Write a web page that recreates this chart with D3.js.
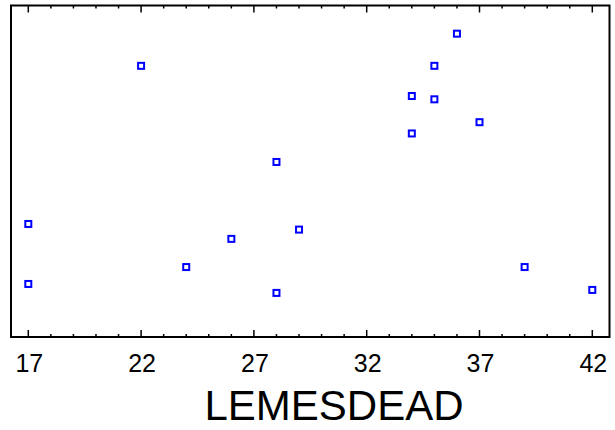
<!DOCTYPE html>
<html>
<head>
<meta charset="utf-8">
<script src="https://cdn.jsdelivr.net/npm/d3@7"></script>
<style>
  body { margin: 0; background: #fff; }
  svg { display: block; }
</style>
</head>
<body>
<div id="chart"></div>
<script>
const kWidth = 615;
const kHeight = 430;

// LEMESDEAD values and the unlabelled vertical variable
const lemesdead = [22, 36, 35, 34, 35, 37, 34, 28, 17, 29, 26, 24, 39, 17, 28, 42];
const yValues = [8.18, 9.15, 8.18, 7.27, 7.17, 6.48, 6.14, 5.28, 3.41, 3.24, 2.96, 2.11, 2.11, 1.60, 1.33, 1.42];
const xTicks = [17, 22, 27, 32, 37, 42];
const xLabel = "LEMESDEAD";

const kLeft = 11, kRight = 609.5, kTop = 5.5, kBottom = 337;

const svg = d3.select("#chart")
  .append("svg")
  .attr("width", kWidth)
  .attr("height", kHeight);

const xScale = d3.scaleLinear()
  .domain([17, 42])
  .range([28.3, 592.3]);

const yScale = d3.scaleLinear()
  .domain([0, 10])
  .range([kBottom, kTop]);

// frame
svg.append("rect")
  .attr("x", kLeft)
  .attr("y", kTop)
  .attr("width", kRight - kLeft)
  .attr("height", kBottom - kTop)
  .attr("fill", "none")
  .attr("stroke", "#000")
  .attr("stroke-width", 2);

const minorTicks = d3.range(17, 43);

function drawTicks(y, dir) {
  const g = svg.append("g");
  g.selectAll("line.minor")
    .data(minorTicks.filter(d => !xTicks.includes(d)))
    .enter()
    .append("line")
    .attr("class", "minor")
    .attr("x1", d => xScale(d))
    .attr("x2", d => xScale(d))
    .attr("y1", y)
    .attr("y2", y + dir * 3)
    .attr("stroke", "#000")
    .attr("stroke-width", 1.5);
  g.selectAll("line.major")
    .data(xTicks)
    .enter()
    .append("line")
    .attr("class", "major")
    .attr("x1", d => xScale(d))
    .attr("x2", d => xScale(d))
    .attr("y1", y)
    .attr("y2", y + dir * 7)
    .attr("stroke", "#000")
    .attr("stroke-width", 1.5);
}
drawTicks(kBottom, -1);
drawTicks(kTop, 1);

// tick labels
svg.append("g")
  .selectAll("text")
  .data(xTicks)
  .enter()
  .append("text")
  .attr("x", d => xScale(d) + 1)
  .attr("y", 372)
  .attr("text-anchor", "middle")
  .style("font-family", "'Liberation Sans', Arial, sans-serif")
  .style("font-size", "25px")
  .text(d => d);

svg.append("text")
  .attr("x", 334)
  .attr("y", 419.5)
  .attr("text-anchor", "middle")
  .style("font-family", "'Liberation Sans', Arial, sans-serif")
  .style("font-size", "42px")
  .text(xLabel);

// points
const s = 6;
svg.append("g")
  .selectAll("rect")
  .data(lemesdead.map((d, i) => ({ x: d, y: yValues[i] })))
  .enter()
  .append("rect")
  .attr("x", d => xScale(d.x) - s / 2)
  .attr("y", d => yScale(d.y) - s / 2)
  .attr("width", s)
  .attr("height", s)
  .attr("fill", "none")
  .attr("stroke", "#0000ff")
  .attr("stroke-width", 2);
</script>
</body>
</html>
